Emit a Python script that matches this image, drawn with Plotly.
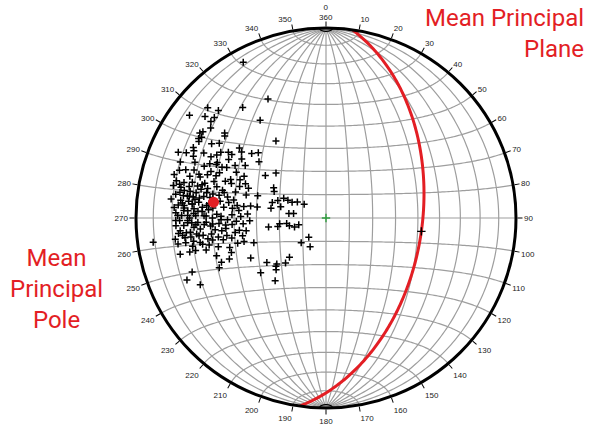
import numpy as np
import plotly.graph_objects as go

# ---------------- data ----------------
mean_pole_trend = 278
mean_pole_plunge = 40
plane_dipdir = 98
plane_dip = 48
tick_az = list(range(10, 360, 10))
tick_text = [str(a) for a in tick_az]

# poles to planes: (trend, plunge) in degrees
poles = [
    (332, 8), (334, 31), (326, 38), (313, 16), (315, 21), (307, 11), (310, 18), (312, 22), (310, 22),
    (308, 24), (304, 21), (305, 22), (310, 31), (309, 32), (323, 28),
    (302, 22), (303, 23), (327, 50), (301, 23), (305, 32), (303, 29), (298, 22), (309, 41), (311, 47),
    (314, 49), (310, 52), (305, 58), (312, 61), (262, 9), (256, 22), (256, 27), (256, 30), (255, 35),
    (251, 39), (247, 40), (245, 38), (250, 46), (247, 44), (242, 53), (233, 58), (227, 61), (222, 64),
    (223, 67), (248, 25), (246, 21), (242, 26), (230, 53), (224, 59), (219, 55), (226, 60), (251, 57),
    (261, 65), (260, 69), (280, 66), (286, 66), (290, 68), (300, 64), (297, 65), (279, 57), (279, 60),
    (288, 59), (268, 57),
    (295, 70), (295, 72), (295, 74), (299, 76), (302, 79), (284, 70), (277, 74), (278, 76), (263, 70),
    (262, 73), (258, 74), (254, 76), (256, 78), (222, 79), (225, 75), (209, 76),
    (294, 16), (295, 20), (297, 23), (295, 24), (298, 28), (298, 32), (300, 34), (302, 35), (304, 38),
    (304, 40), (308, 43), (291, 19), (293, 26), (295, 33), (296, 36), (297, 36), (296, 39), (297, 41),
    (305, 45), (303, 48), (286, 18), (288, 20), (290, 27), (289, 30), (290, 34), (292, 35), (291, 38),
    (293, 39), (292, 45), (297, 46), (297, 50), (284, 20), (283, 22), (284, 24), (283, 27), (285, 28),
    (284, 31), (285, 33), (286, 34), (284, 36), (286, 40), (290, 43), (290, 46), (290, 50), (293, 52),
    (291, 54), (279, 21), (280, 23), (279, 25), (279, 27), (281, 28), (279, 30), (281, 31), (279, 33),
    (282, 36), (280, 38), (282, 42), (282, 46), (286, 49), (286, 54), (275, 23), (276, 25), (275, 26),
    (277, 28), (276, 30), (274, 31), (277, 33), (275, 35), (276, 37), (276, 45), (279, 47), (276, 49),
    (278, 51), (278, 54), (272, 22), (271, 23), (273, 26), (271, 28), (270, 29), (272, 31), (271, 32),
    (273, 35), (271, 37), (270, 40), (272, 42), (271, 44), (269, 47), (272, 49), (271, 53), (273, 56),
    (267, 22), (269, 24), (267, 26), (268, 28), (266, 31), (268, 33), (267, 36), (266, 39), (267, 43),
    (264, 46), (266, 49), (262, 52), (266, 54), (264, 23), (263, 25), (264, 27), (262, 29), (263, 32),
    (262, 35), (262, 39), (260, 42), (260, 46), (261, 50), (258, 53), (260, 26), (258, 29), (259, 33),
    (257, 37), (255, 41), (253, 46), (254, 50),
    (282, 19), (282, 23), (281, 25), (279, 28), (278, 31), (283, 33), (280, 35), (277, 24), (274, 26),
    (273, 28), (276, 30), (273, 33), (271, 36), (274, 38), (275, 40), (269, 22), (271, 25), (269, 28),
    (268, 30), (267, 32), (265, 34), (268, 37), (267, 40), (264, 41), (263, 44), (265, 24), (262, 26),
    (264, 29), (260, 30), (262, 33), (258, 34), (260, 37), (259, 39), (258, 44), (258, 48), (262, 21),
    (260, 22), (268, 51), (266, 46), (269, 44), (277, 38), (277, 19), (274, 21), (279, 43), (282, 39),
    (285, 43), (284, 44), (288, 38), (288, 31), (287, 26), (289, 23), (293, 31), (301, 40), (300, 44),
    (294, 49), (281, 49), (275, 52), (261, 55), (254, 53),
]
pole_trend = [p[0] for p in poles]
pole_plunge = [p[1] for p in poles]

# ---------------- helpers ----------------
def ea_r(plunge):
    return np.sqrt(2) * np.sin(np.radians(90 - np.asarray(plunge, float)) / 2)

def vec_polar(x, y, z):
    z = np.clip(z, -1, 1)
    r = np.sqrt(np.clip(1 - z, 0, None))
    th = np.degrees(np.arctan2(x, y)) % 360
    return r, th

GRID = "#9e9e9e"
fig = go.Figure()

# Schmidt net graticule: great circles through N-S axis
gr, gt = [], []
t = np.linspace(0, np.pi, 181)
for side in (1, -1):
    for d in range(10, 90, 10):
        dr = np.radians(d)
        x = np.sin(t) * side * np.cos(dr)
        y = np.cos(t)
        z = np.sin(t) * np.sin(dr)
        r, th = vec_polar(x, y, z)
        gr += list(r) + [None]
        gt += list(th) + [None]
gr += [1, 0, 1, None]
gt += [0, 0, 180, None]
# small circles about N-S axis
phi = np.linspace(0, np.pi, 181)
for a in range(10, 180, 10):
    if a == 90:
        gr += [1, 0, 1, None]
        gt += [90, 90, 270, None]
        continue
    ar = np.radians(a)
    x = np.sin(ar) * np.cos(phi)
    y = np.full_like(phi, np.cos(ar))
    z = np.sin(ar) * np.sin(phi)
    r, th = vec_polar(x, y, z)
    gr += list(r) + [None]
    gt += list(th) + [None]
fig.add_trace(go.Scatterpolar(r=gr, theta=gt, mode="lines", connectgaps=False,
                              line=dict(color=GRID, width=1.2), hoverinfo="skip", showlegend=False))

# tiny pole marks
for a in (2, 178):
    ar = np.radians(a)
    x = np.sin(ar) * np.cos(phi)
    y = np.full_like(phi, np.cos(ar))
    z = np.sin(ar) * np.sin(phi)
    r, th = vec_polar(x, y, z)
    fig.add_trace(go.Scatterpolar(r=r, theta=th, mode="lines", line=dict(color="black", width=1.2),
                                  hoverinfo="skip", showlegend=False))

# mean principal plane
dd = np.radians(plane_dipdir); dp = np.radians(plane_dip); st = dd - np.pi / 2
s = np.array([np.sin(st), np.cos(st), 0.0])
dv = np.array([np.cos(dp) * np.sin(dd), np.cos(dp) * np.cos(dd), np.sin(dp)])
tt = np.linspace(0, np.pi, 241)
pv = np.outer(np.cos(tt), s) + np.outer(np.sin(tt), dv)
pr, pth = vec_polar(pv[:, 0], pv[:, 1], pv[:, 2])
fig.add_trace(go.Scatterpolar(r=pr, theta=pth, mode="lines", line=dict(color="#e31e24", width=3),
                              hoverinfo="skip", showlegend=False))

# poles
fig.add_trace(go.Scatterpolar(r=ea_r(pole_plunge), theta=pole_trend, mode="markers",
                              marker=dict(symbol="cross-thin", size=5, line=dict(width=1.5, color="black")),
                              showlegend=False))
# plane dip vector
fig.add_trace(go.Scatterpolar(r=ea_r([plane_dip]), theta=[plane_dipdir], mode="markers",
                              marker=dict(symbol="cross-thin", size=6, line=dict(width=1.4, color="black")),
                              showlegend=False))
# centre
fig.add_trace(go.Scatterpolar(r=[0], theta=[0], mode="markers",
                              marker=dict(symbol="cross-thin", size=6, line=dict(width=1.4, color="#2e9e3e")),
                              showlegend=False))
# mean pole
fig.add_trace(go.Scatterpolar(r=ea_r([mean_pole_plunge]), theta=[mean_pole_trend], mode="markers",
                              marker=dict(symbol="circle", size=11, color="#e31e24"), showlegend=False))

W, H = 596, 428
cx, cy, R = 326, 218, 190
fig.update_layout(
    width=W, height=H, margin=dict(l=0, r=0, t=0, b=0),
    paper_bgcolor="white", plot_bgcolor="white",
    polar=dict(
        domain=dict(x=[(cx - R) / W, (cx + R) / W], y=[(H - cy - R) / H, (H - cy + R) / H]),
        bgcolor="white",
        radialaxis=dict(visible=False, range=[0, 1]),
        angularaxis=dict(rotation=90, direction="clockwise", tickmode="array",
                         tickvals=[0] + tick_az, ticktext=[""] + tick_text, ticks="outside", ticklen=5,
                         tickwidth=1.2, tickcolor="black", showline=True, linecolor="black",
                         linewidth=3, showgrid=False,
                         tickfont=dict(family="Liberation Sans", size=8, color="#222")),
    ),
    annotations=[
        dict(text="0<br>360", x=cx / W, y=1 - 2 / H, xref="paper", yref="paper", showarrow=False,
             xanchor="center", yanchor="top", borderpad=0,
             font=dict(family="Liberation Sans", size=8, color="#222")),
        dict(text="Mean Principal<br>Plane", x=586 / W, y=1 - 2 / H, xref="paper", yref="paper",
             xanchor="right", yanchor="top", align="right", showarrow=False,
             font=dict(family="Roboto", size=24, color="#e31e24")),
        dict(text="Mean<br>Principal<br>Pole", x=56 / W, y=1 - 242 / H, xref="paper", yref="paper",
             xanchor="center", yanchor="top", align="center", showarrow=False,
             font=dict(family="Roboto", size=24, color="#e31e24")),
    ],
)
fig.write_html("out.html")
